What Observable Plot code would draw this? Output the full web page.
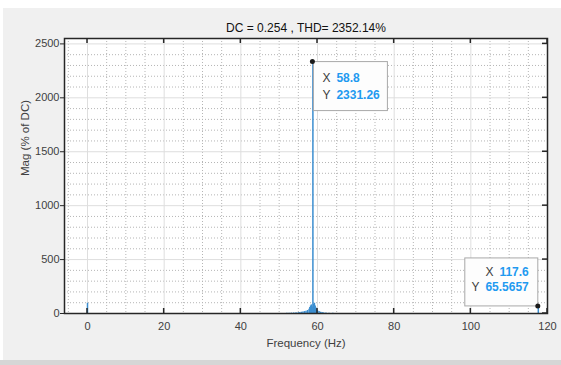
<!DOCTYPE html>
<html>
<head>
<meta charset="utf-8">
<script src="https://cdn.jsdelivr.net/npm/d3@7"></script>
<script src="https://cdn.jsdelivr.net/npm/@observablehq/plot@0.6"></script>
<style>
  html, body { margin: 0; padding: 0; background: #ffffff; }
  #wrap { width: 561px; height: 365px; position: relative; overflow: hidden; background: #ffffff; }
  #panel { position: absolute; left: 3px; top: 8px; }
  #band { position: absolute; left: 0; top: 360px; width: 561px; height: 5px; background: #d6d6d6; }
</style>
</head>
<body>
<div id="wrap"><div id="panel"></div><div id="band"></div></div>
<script>
// ---- data ----
const freq = [0, 52.0, 52.6, 53.2, 53.8, 54.4, 55.0, 55.4, 55.8, 56.2, 56.6, 57.0, 57.4, 57.8, 58.0, 58.2, 58.4, 58.6, 58.8, 59.0, 59.2, 59.4, 59.6, 59.8, 60.0, 60.4, 60.8, 61.2, 61.6, 62.2, 63.0, 64.0, 117.6];
const mag  = [95, 2, 3, 4, 5, 6, 8, 10, 12, 15, 18, 22, 28, 40, 55, 70, 80, 60, 2331.26, 85, 95, 70, 50, 35, 25, 18, 12, 9, 6, 4, 3, 2, 65.5657];

const xTicks = [0, 20, 40, 60, 80, 100, 120];
const yTicks = [0, 500, 1000, 1500, 2000, 2500];
const xMinor = [-5, 5, 10, 15, 25, 30, 35, 45, 50, 55, 65, 70, 75, 85, 90, 95, 105, 110, 115];
const yMinor = [100, 200, 300, 400, 600, 700, 800, 900, 1100, 1200, 1300, 1400, 1600, 1700, 1800, 1900, 2100, 2200, 2300, 2400];

const tipX = [58.8, 117.6];
const tipY = [2331.26, 65.5657];
const tipXLabel = ["58.8", "117.6"];
const tipYLabel = ["2331.26", "65.5657"];

const titleText = "DC = 0.254 , THD= 2352.14%";
const xLabel = "Frequency (Hz)";
const yLabel = "Mag (% of DC)";

const spectrum = freq.map((f, i) => ({f, m: mag[i]}));
const FONT = "'Liberation Sans', Arial, Helvetica, sans-serif";

const plot = Plot.plot({
  width: 558,
  height: 352,
  marginLeft: 61,
  marginTop: 30,
  marginRight: 14,
  marginBottom: 47,
  style: {fontFamily: FONT, fontSize: "11px", background: "#f0f0f0", color: "#404040"},
  x: {domain: [-6, 120]},
  y: {domain: [0, 2550]},
  marks: [
    Plot.frame({fill: "#ffffff", stroke: null}),
    Plot.gridX(xMinor, {stroke: "#b5b5b5", strokeOpacity: 1, strokeDasharray: "1,2"}),
    Plot.gridY(yMinor, {stroke: "#b5b5b5", strokeOpacity: 1, strokeDasharray: "1,2"}),
    Plot.gridX(xTicks, {stroke: "#dedede", strokeOpacity: 1}),
    Plot.gridY(yTicks, {stroke: "#dedede", strokeOpacity: 1}),
    Plot.ruleX(spectrum, {x: "f", y1: 0, y2: "m", stroke: "#3b8ed0", strokeWidth: 1.5}),
    Plot.axisX(xTicks, {tickSize: 0, tickPadding: 9, fontSize: 11, fill: "#404040", label: null, tickFormat: d => String(d)}),
    Plot.axisY(yTicks, {tickSize: 4, tickPadding: 1, fontSize: 11, fill: "#404040", stroke: "#262626", label: null, tickFormat: d => String(d)}),
    Plot.text([titleText], {frameAnchor: "top", dy: -10, fontSize: 12, fill: "#111111", lineAnchor: "middle"}),
    Plot.text([xLabel], {frameAnchor: "bottom", dy: 30, fontSize: 11.5, fill: "#404040", lineAnchor: "middle"}),
    Plot.text([yLabel], {frameAnchor: "left", dx: -39, rotate: -90, fontSize: 11.5, fill: "#404040", lineAnchor: "middle"}),
    Plot.frame({stroke: "#262626", strokeWidth: 1.5})
  ]
});

document.getElementById("panel").appendChild(plot);

// inward ticks on bottom/top/right from the scales
const sx = plot.scale("x"), sy = plot.scale("y");
const svg = d3.select(plot);
const x1 = sx.range[1];
const yb = sy.range[0], yt = sy.range[1];
const gt = svg.append("g").attr("stroke", "#262626").attr("stroke-width", 1.5);
xTicks.forEach(t => {
  const px = sx.apply(t);
  gt.append("line").attr("x1", px).attr("x2", px).attr("y1", yb).attr("y2", yb - 5);
  gt.append("line").attr("x1", px).attr("x2", px).attr("y1", yt).attr("y2", yt + 5);
});
yTicks.forEach(t => {
  const py = sy.apply(t);
  gt.append("line").attr("x1", x1).attr("x2", x1 - 5).attr("y1", py).attr("y2", py);
});

// data tips
const gd = svg.append("g").attr("font-family", FONT).attr("font-size", 12).attr("text-anchor", "start");
tipX.forEach((tx, i) => {
  const px = sx.apply(tx), py = sy.apply(tipY[i]);
  if (i === 0) {
    gd.append("rect").attr("x", px + 1).attr("y", py).attr("width", 74).attr("height", 49)
      .attr("fill", "#fdfdfd").attr("stroke", "#a8a8a8").attr("stroke-width", 1);
    gd.append("text").attr("x", px + 10).attr("y", py + 16).attr("dy", "0.35em").attr("text-anchor", "start").attr("fill", "#404040").text("X");
    gd.append("text").attr("x", px + 24).attr("y", py + 16).attr("dy", "0.35em").attr("text-anchor", "start").attr("fill", "#1f9af0").attr("font-weight", "bold").text(tipXLabel[i]);
    gd.append("text").attr("x", px + 10).attr("y", py + 33).attr("dy", "0.35em").attr("text-anchor", "start").attr("fill", "#404040").text("Y");
    gd.append("text").attr("x", px + 24).attr("y", py + 33).attr("dy", "0.35em").attr("text-anchor", "start").attr("fill", "#1f9af0").attr("font-weight", "bold").text(tipYLabel[i]);
  } else {
    gd.append("rect").attr("x", px - 73).attr("y", py - 48).attr("width", 73).attr("height", 48)
      .attr("fill", "#fdfdfd").attr("stroke", "#a8a8a8").attr("stroke-width", 1);
    const v1 = gd.append("text").attr("x", px - 9).attr("y", py - 34).attr("dy", "0.35em").attr("text-anchor", "end")
      .attr("fill", "#1f9af0").attr("font-weight", "bold").text(tipXLabel[i]);
    const v2 = gd.append("text").attr("x", px - 9).attr("y", py - 19).attr("dy", "0.35em").attr("text-anchor", "end")
      .attr("fill", "#1f9af0").attr("font-weight", "bold").text(tipYLabel[i]);
    const w1 = v1.node().getComputedTextLength(), w2 = v2.node().getComputedTextLength();
    gd.append("text").attr("x", px - 9 - w1 - 6).attr("y", py - 34).attr("dy", "0.35em").attr("text-anchor", "end").attr("fill", "#404040").text("X");
    gd.append("text").attr("x", px - 9 - w2 - 6).attr("y", py - 19).attr("dy", "0.35em").attr("text-anchor", "end").attr("fill", "#404040").text("Y");
  }
  gd.append("circle").attr("cx", px).attr("cy", py).attr("r", 2.5).attr("fill", "#1a1a1a");
});
</script>
</body>
</html>
